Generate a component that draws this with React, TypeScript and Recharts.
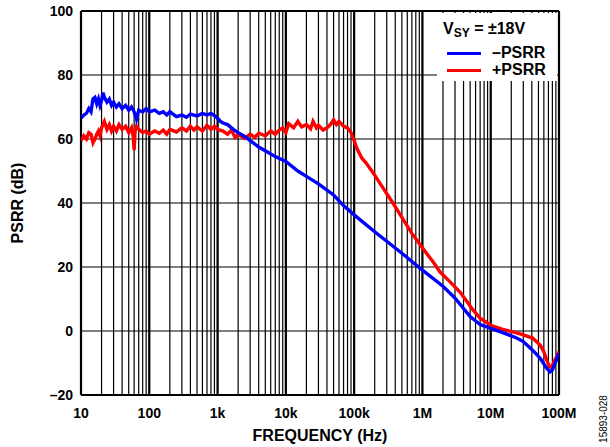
import React from "react";
import { CartesianGrid, Line, LineChart, ReferenceLine, XAxis, YAxis } from "recharts";

// frequency (Hz) / dB
const minusPsrr = [
  { f: 10, v: 66.5 }, { f: 11, v: 67.5 }, { f: 12, v: 68 }, { f: 13, v: 69.5 },
  { f: 14, v: 68.5 }, { f: 15, v: 72.5 }, { f: 16, v: 73 }, { f: 17, v: 71 },
  { f: 18, v: 72.5 }, { f: 19, v: 70.5 }, { f: 20, v: 72 }, { f: 21, v: 74.5 },
  { f: 22, v: 73 }, { f: 24, v: 71.5 }, { f: 26, v: 72.5 }, { f: 28, v: 70.5 },
  { f: 30, v: 71.5 }, { f: 33, v: 70 }, { f: 36, v: 71 }, { f: 40, v: 69.5 },
  { f: 45, v: 70.5 }, { f: 50, v: 69 }, { f: 55, v: 70 }, { f: 60, v: 68.5 },
  { f: 65, v: 66.2 }, { f: 70, v: 69 }, { f: 80, v: 68.5 }, { f: 90, v: 69.5 },
  { f: 100, v: 68.5 }, { f: 120, v: 69 }, { f: 140, v: 68 }, { f: 160, v: 68.5 },
  { f: 180, v: 67.5 }, { f: 200, v: 68.5 }, { f: 250, v: 67 }, { f: 300, v: 67.5 },
  { f: 350, v: 66.8 }, { f: 400, v: 67.8 }, { f: 500, v: 67.2 }, { f: 600, v: 68 },
  { f: 700, v: 67.5 }, { f: 800, v: 68 }, { f: 900, v: 67.3 }, { f: 1000, v: 66.5 },
  { f: 1100, v: 65.5 }, { f: 1200, v: 65 }, { f: 1400, v: 64.5 }, { f: 1700, v: 63 },
  { f: 2000, v: 62 }, { f: 2500, v: 60.8 }, { f: 3000, v: 59.5 }, { f: 4000, v: 57.5 },
  { f: 5000, v: 56.3 }, { f: 7000, v: 54.5 }, { f: 10000, v: 53 }, { f: 15000, v: 50 },
  { f: 20000, v: 48.3 }, { f: 30000, v: 46 }, { f: 50000, v: 42.5 }, { f: 70000, v: 39.2 },
  { f: 100000, v: 36.3 }, { f: 200000, v: 31 }, { f: 500000, v: 24.3 }, { f: 1e6, v: 19 },
  { f: 2e6, v: 14 }, { f: 3e6, v: 10.3 }, { f: 5e6, v: 4.5 }, { f: 7e6, v: 2 },
  { f: 1e7, v: 0.8 }, { f: 1.5e7, v: -0.5 }, { f: 2.4e7, v: -2.2 }, { f: 3e7, v: -3.3 },
  { f: 4.1e7, v: -6 }, { f: 5.3e7, v: -8.5 }, { f: 6.6e7, v: -11.6 }, { f: 7.4e7, v: -12.8 },
  { f: 8e7, v: -12.2 }, { f: 9e7, v: -9.5 }, { f: 1e8, v: -6.9 },
];

const plusPsrr = [
  { f: 10, v: 59.5 }, { f: 11, v: 61 }, { f: 12, v: 60 }, { f: 13, v: 62 },
  { f: 14, v: 61.5 }, { f: 15, v: 58.8 }, { f: 16, v: 60 }, { f: 17, v: 61.5 },
  { f: 18, v: 62.5 }, { f: 19, v: 61 }, { f: 20, v: 63.5 }, { f: 22, v: 65.5 },
  { f: 24, v: 63 }, { f: 26, v: 64.5 }, { f: 28, v: 62.5 }, { f: 30, v: 64 },
  { f: 33, v: 62.5 }, { f: 36, v: 64.5 }, { f: 40, v: 63 }, { f: 45, v: 64 },
  { f: 50, v: 62 }, { f: 55, v: 63.5 }, { f: 58, v: 61 }, { f: 60, v: 56.5 },
  { f: 62, v: 62.5 }, { f: 65, v: 64 }, { f: 70, v: 63 }, { f: 80, v: 62 },
  { f: 90, v: 62.5 }, { f: 100, v: 61.5 }, { f: 120, v: 62.5 }, { f: 140, v: 61.8 },
  { f: 160, v: 62.8 }, { f: 180, v: 61.5 }, { f: 200, v: 63 }, { f: 250, v: 62.2 },
  { f: 300, v: 63.5 }, { f: 350, v: 62.5 }, { f: 400, v: 64 }, { f: 450, v: 62.8 },
  { f: 500, v: 63.8 }, { f: 600, v: 62.5 }, { f: 700, v: 64.3 }, { f: 800, v: 63 },
  { f: 900, v: 64 }, { f: 1000, v: 63 }, { f: 1200, v: 62.5 }, { f: 1400, v: 61.5 },
  { f: 1600, v: 62.8 }, { f: 1800, v: 60.5 }, { f: 2000, v: 61.5 }, { f: 2500, v: 60.2 },
  { f: 3000, v: 61.5 }, { f: 3500, v: 60.5 }, { f: 4000, v: 61.8 }, { f: 5000, v: 61 },
  { f: 6000, v: 62.5 }, { f: 7000, v: 61.5 }, { f: 8000, v: 62.8 }, { f: 9000, v: 63.5 },
  { f: 10000, v: 62 }, { f: 11000, v: 64.8 }, { f: 13000, v: 63.5 }, { f: 15000, v: 65.5 },
  { f: 17000, v: 63.8 }, { f: 20000, v: 64.5 }, { f: 23000, v: 63.2 }, { f: 25000, v: 65.5 },
  { f: 28000, v: 63.5 }, { f: 30000, v: 64.3 }, { f: 35000, v: 62.8 }, { f: 40000, v: 63.5 },
  { f: 45000, v: 64.5 }, { f: 50000, v: 66 }, { f: 55000, v: 64.5 }, { f: 60000, v: 65.5 },
  { f: 70000, v: 64 }, { f: 80000, v: 63.5 }, { f: 90000, v: 62 }, { f: 100000, v: 59.5 },
  { f: 110000, v: 57 }, { f: 130000, v: 54 }, { f: 150000, v: 52.5 }, { f: 190000, v: 49.4 },
  { f: 250000, v: 45.5 }, { f: 370000, v: 40 }, { f: 500000, v: 35.5 }, { f: 700000, v: 30.5 },
  { f: 1e6, v: 26 }, { f: 1.5e6, v: 21 }, { f: 1.8e6, v: 18.5 }, { f: 2.5e6, v: 15.5 },
  { f: 3.6e6, v: 12 }, { f: 5.5e6, v: 6.6 }, { f: 7e6, v: 4 }, { f: 1e7, v: 1.8 },
  { f: 1.5e7, v: 0.5 }, { f: 2.4e7, v: -0.6 }, { f: 3e7, v: -1.2 }, { f: 4.1e7, v: -2.2 },
  { f: 5.3e7, v: -4.4 }, { f: 6e7, v: -6.5 }, { f: 6.6e7, v: -9 }, { f: 7.2e7, v: -11 },
  { f: 7.8e7, v: -11.5 }, { f: 8.5e7, v: -9.5 }, { f: 1e8, v: -6.5 },
];

const decades = [10, 100, 1000, 1e4, 1e5, 1e6, 1e7, 1e8];
const decadeLabels = ["10", "100", "1k", "10k", "100k", "1M", "10M", "100M"];
const yTicks = [-20, 0, 20, 40, 60, 80, 100];

const xTicks: number[] = [];
decades.slice(0, -1).forEach((d) => {
  for (let m = 1; m < 10; m++) xTicks.push(d * m);
});
xTicks.push(1e8);

const font = "'Liberation Sans', Arial, sans-serif";
const tick = { fontFamily: font, fontWeight: 700, fontSize: 14, fill: "#000" };

export default function App() {
  return (
    <div
      style={{
        position: "absolute",
        left: 0,
        top: 0,
        width: 610,
        height: 447,
        background: "#fff",
        fontFamily: font,
        fontWeight: 700,
        color: "#000",
      }}
    >
      <LineChart width={610} height={447} margin={{ top: 11, right: 51, left: 0, bottom: 22 }}>
        <CartesianGrid stroke="#000" strokeWidth={1.2} />
        <XAxis
          dataKey="f"
          type="number"
          scale="log"
          domain={[10, 1e8]}
          ticks={xTicks}
          interval={0}
          allowDataOverflow
          tick={tick}
          tickLine={false}
          axisLine={false}
          tickMargin={7}
          height={30}
          tickFormatter={(v: number) => {
            const i = decades.indexOf(v);
            return i >= 0 ? decadeLabels[i] : "";
          }}
        />
        <YAxis
          type="number"
          domain={[-20, 100]}
          ticks={yTicks}
          interval={0}
          tick={tick}
          tickLine={false}
          axisLine={false}
          width={81}
          tickFormatter={(v: number) => (v < 0 ? "\u2013" + Math.abs(v) : String(v))}
        />
        {decades.map((d) => (
          <ReferenceLine key={d} x={d} stroke="#000" strokeWidth={2.2} />
        ))}
        <ReferenceLine y={100} stroke="#000" strokeWidth={2.2} />
        <ReferenceLine y={-20} stroke="#000" strokeWidth={2.2} />
        <Line
          data={plusPsrr}
          dataKey="v"
          type="linear"
          stroke="#ff0000"
          strokeWidth={3.4}
          dot={false}
          isAnimationActive={false}
        />
        <Line
          data={minusPsrr}
          dataKey="v"
          type="linear"
          stroke="#0000ff"
          strokeWidth={3.4}
          dot={false}
          isAnimationActive={false}
        />
      </LineChart>

      {/* legend box */}
      <div
        style={{
          position: "absolute",
          left: 437,
          top: 12.5,
          width: 120,
          height: 68,
          background: "#fff",
        }}
      >
        <div style={{ position: "absolute", left: 6, top: 7, fontSize: 16, whiteSpace: "nowrap" }}>
          V<sub style={{ fontSize: 12, verticalAlign: "-3px" }}>SY</sub> = ±18V
        </div>
        <div style={{ position: "absolute", left: 10, top: 39, width: 34, height: 3.5, background: "#0000ff" }} />
        <div style={{ position: "absolute", left: 55, top: 31, fontSize: 16 }}>–PSRR</div>
        <div style={{ position: "absolute", left: 10, top: 56, width: 34, height: 3.5, background: "#ff0000" }} />
        <div style={{ position: "absolute", left: 55, top: 48, fontSize: 16 }}>+PSRR</div>
      </div>

      <div
        style={{
          position: "absolute",
          left: 320,
          top: 436,
          transform: "translate(-50%, -50%)",
          fontSize: 16,
          whiteSpace: "nowrap",
        }}
      >
        FREQUENCY (Hz)
      </div>
      <div
        style={{
          position: "absolute",
          left: 18,
          top: 203,
          transform: "translate(-50%, -50%) rotate(-90deg)",
          fontSize: 16,
          whiteSpace: "nowrap",
        }}
      >
        PSRR (dB)
      </div>
      <div
        style={{
          position: "absolute",
          left: 603,
          top: 419,
          transform: "translate(-50%, -50%) rotate(-90deg)",
          fontSize: 10,
          fontWeight: 400,
          whiteSpace: "nowrap",
        }}
      >
        15893-028
      </div>
    </div>
  );
}
